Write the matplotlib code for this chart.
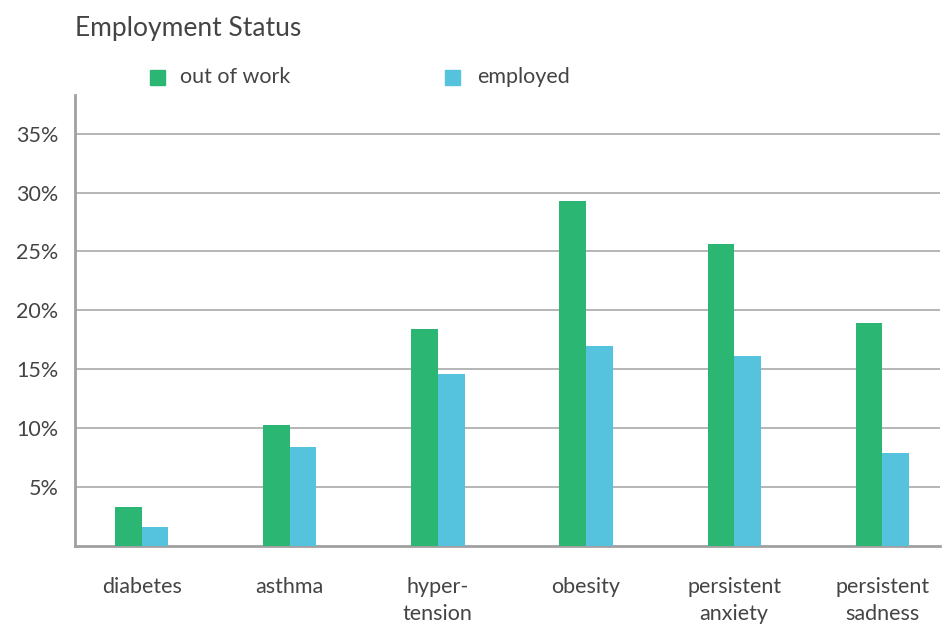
import numpy as np
import matplotlib
matplotlib.use("Agg")
import matplotlib.pyplot as plt

plt.rcParams['font.family'] = ['Lato', 'DejaVu Sans']

categories = ['diabetes', 'asthma', 'hyper-\ntension', 'obesity',
              'persistent\nanxiety', 'persistent\nsadness']
out_of_work = [3.3, 10.3, 18.4, 29.3, 25.6, 18.9]
employed = [1.6, 8.4, 14.6, 17.0, 16.1, 7.9]
yticks = [5, 10, 15, 20, 25, 30, 35]
ytick_labels = ['5%', '10%', '15%', '20%', '25%', '30%', '35%']

green = '#2bb673'
blue = '#56c3de'
textcol = '#444444'

fig = plt.figure(figsize=(9.42, 6.28), dpi=100)
ax = fig.add_axes([0.0796, 0.1306, 0.9184, 0.7184])

x = np.arange(len(categories))
w = 0.18
ax.bar(x - w/2, out_of_work, w, color=green, label='out of work', zorder=3)
ax.bar(x + w/2, employed, w, color=blue, label='employed', zorder=3)

ax.set_xlim(-0.45, 5.39)
ax.set_ylim(0, 38.3)
ax.set_yticks(yticks)
ax.set_yticklabels(ytick_labels)
ax.set_xticks(x)
ax.set_xticklabels(categories, linespacing=1.45)
ax.tick_params(length=0, labelsize=15.5, labelcolor=textcol)
ax.tick_params(axis='x', pad=22)
ax.tick_params(axis='y', pad=12)
ax.yaxis.grid(True, color='#b5b5b5', linewidth=1.4, zorder=0)

for s in ['top', 'right']:
    ax.spines[s].set_visible(False)
for s in ['left', 'bottom']:
    ax.spines[s].set_color('#a0a0a0')
    ax.spines[s].set_linewidth(2)

fig.text(0.0796, 0.955, 'Employment Status', fontsize=19, color=textcol,
         va='center', ha='left')

# legend drawn by hand positions in figure coords
fig.patches.append(plt.Rectangle((0.159, 0.865), 0.016, 0.024, color=green,
                                 transform=fig.transFigure, figure=fig))
fig.text(0.191, 0.877, 'out of work', fontsize=15.5, color=textcol, va='center')
fig.patches.append(plt.Rectangle((0.472, 0.865), 0.016, 0.024, color=blue,
                                 transform=fig.transFigure, figure=fig))
fig.text(0.507, 0.877, 'employed', fontsize=15.5, color=textcol, va='center')

fig.savefig('out.png', dpi=100)
